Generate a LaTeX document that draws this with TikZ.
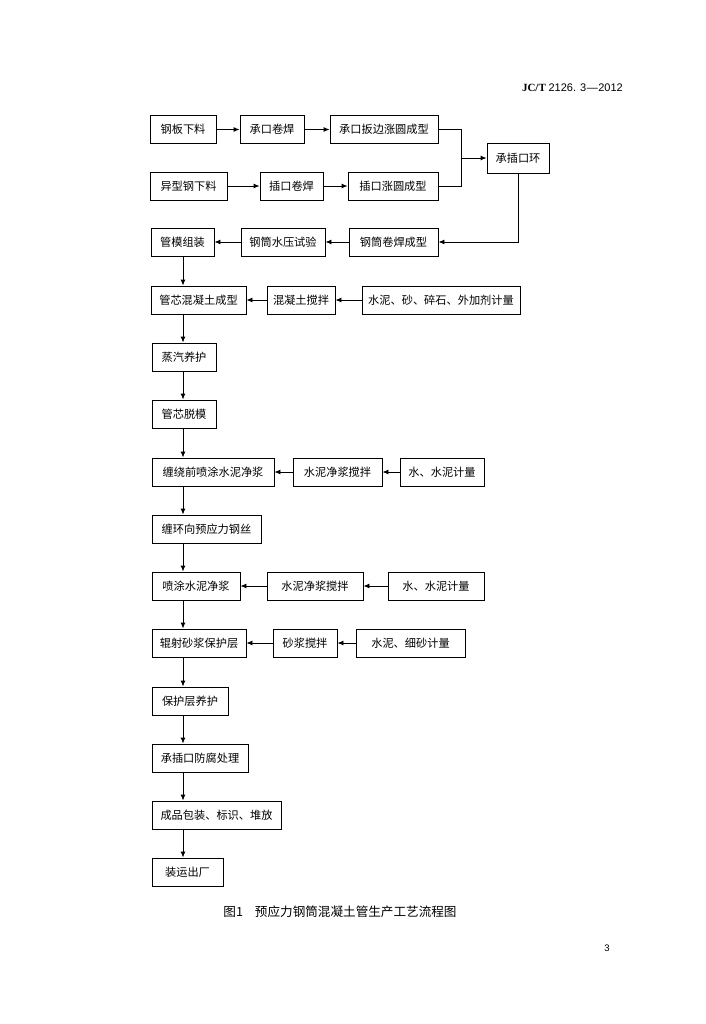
\documentclass[tikz,border=0pt]{standalone}
\usepackage{fontspec}
\setmainfont{Liberation Serif}
\newfontfamily\cjk{Noto Sans CJK SC}
\newfontfamily\hsans{Liberation Sans}
\usetikzlibrary{arrows.meta}
\begin{document}
\begin{tikzpicture}[x=1pt,y=-1pt,
  box/.style={draw, line width=0.9pt, minimum height=28pt, inner sep=0pt, font=\cjk\fontsize{11.2}{13}\selectfont},
  conn/.style={line width=0.9pt},
  arr/.style={line width=0.9pt, -{Latex[length=6pt,width=5pt]}}]
\useasboundingbox (0,0) rectangle (705,1024);
% header and page number
\node[anchor=east, inner sep=0pt, font=\fontsize{11}{13}\selectfont] (hdr) at (623,88) {\textbf{JC/T} \hsans 2126. 3\kern0.5pt—\kern0.5pt2012};
\node[inner sep=0pt, font=\hsans\fontsize{9.5}{11}\selectfont] (pg) at (607,948) {3};
% row 1
\node[box, minimum width=66pt] (a1) at (183,129.5) {钢板下料};
\node[box, minimum width=64pt] (a2) at (272,129.5) {承口卷焊};
\node[box, minimum width=108pt] (a3) at (384,129.5) {承口扳边涨圆成型};
% row 2
\node[box, minimum width=77pt] (b1) at (188.5,186) {异型钢下料};
\node[box, minimum width=63pt] (b2) at (291.5,186) {插口卷焊};
\node[box, minimum width=90pt] (b3) at (393,186) {插口涨圆成型};
% ring
\node[box, minimum width=62pt, minimum height=30pt] (r) at (518,158) {承插口环};
% row 3
\node[box, minimum width=63pt] (c1) at (182.5,242) {管模组装};
\node[box, minimum width=84pt] (c2) at (283,242) {钢筒水压试验};
\node[box, minimum width=89pt] (c3) at (393.5,242) {钢筒卷焊成型};
% row 4
\node[box, minimum width=95pt] (d1) at (198.5,300) {管芯混凝土成型};
\node[box, minimum width=68pt] (d2) at (301,300) {混凝土搅拌};
\node[box, minimum width=158pt] (d3) at (441,300) {水泥、砂、碎石、外加剂计量};
% main column
\node[box, minimum width=64pt] (e) at (184,357) {蒸汽养护};
\node[box, minimum width=64pt] (f) at (184,414) {管芯脱模};
\node[box, minimum width=122pt] (g1) at (213,472) {缠绕前喷涂水泥净浆};
\node[box, minimum width=89pt] (g2) at (337.5,472) {水泥净浆搅拌};
\node[box, minimum width=84pt] (g3) at (442,472) {水、水泥计量};
\node[box, minimum width=109pt] (h) at (206.5,529) {缠环向预应力钢丝};
\node[box, minimum width=88pt] (i1) at (196,586) {喷涂水泥净浆};
\node[box, minimum width=96pt] (i2) at (315,586) {水泥净浆搅拌};
\node[box, minimum width=96pt] (i3) at (436,586) {水、水泥计量};
\node[box, minimum width=94pt] (j1) at (199,643) {辊射砂浆保护层};
\node[box, minimum width=64pt] (j2) at (305,643) {砂浆搅拌};
\node[box, minimum width=109pt] (j3) at (410.5,643) {水泥、细砂计量};
\node[box, minimum width=76pt] (k) at (190,701) {保护层养护};
\node[box, minimum width=96pt] (l) at (200,758) {承插口防腐处理};
\node[box, minimum width=129pt] (m) at (216.5,815) {成品包装、标识、堆放};
\node[box, minimum width=71pt] (n) at (187.5,872) {装运出厂};
% caption
\node[inner sep=0pt, font=\cjk\fontsize{12.6}{14}\selectfont] (cap) at (340,912) {图1\hspace{12pt}预应力钢筒混凝土管生产工艺流程图};
% coordinates
\coordinate (colx) at (183,0);
\coordinate (jx) at (461,158);
% connectors rows 1-2
\draw[arr] (a1) -- (a2);
\draw[arr] (a2) -- (a3);
\draw[arr] (b1) -- (b2);
\draw[arr] (b2) -- (b3);
\draw[conn] (a3.east) -| (jx);
\draw[conn] (b3.east) -| (jx);
\draw[arr] (jx) -- (r.west);
\draw[arr] (r.south) |- (c3.east);
\draw[arr] (c3) -- (c2);
\draw[arr] (c2) -- (c1);
\draw[arr] (d3) -- (d2);
\draw[arr] (d2) -- (d1);
\draw[arr] (g3) -- (g2);
\draw[arr] (g2) -- (g1);
\draw[arr] (i3) -- (i2);
\draw[arr] (i2) -- (i1);
\draw[arr] (j3) -- (j2);
\draw[arr] (j2) -- (j1);
% vertical flow
\foreach \p/\q in {c1/d1, d1/e, e/f, f/g1, g1/h, h/i1, i1/j1, j1/k, k/l, l/m, m/n}
  \draw[arr] (\p.south -| colx) -- (\q.north -| colx);
\end{tikzpicture}
\end{document}
